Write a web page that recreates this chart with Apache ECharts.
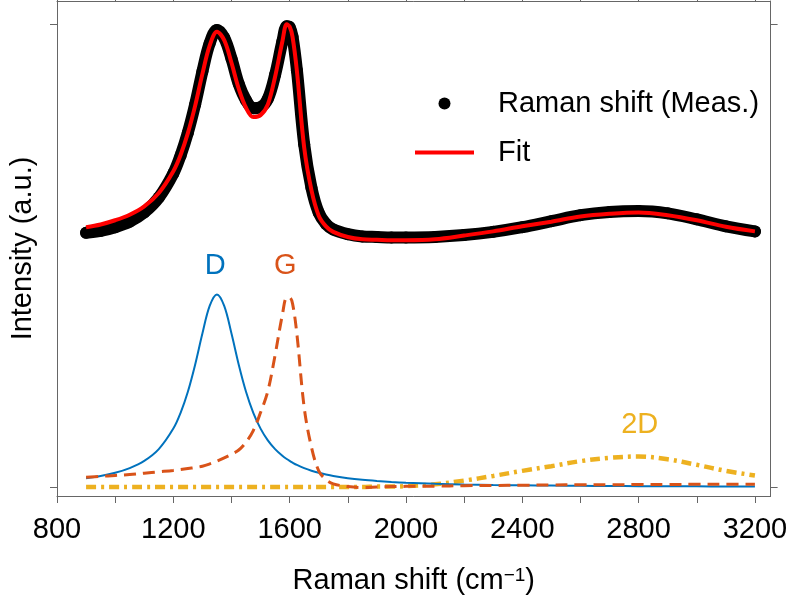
<!DOCTYPE html>
<html><head><meta charset="utf-8">
<script src="https://cdn.jsdelivr.net/npm/echarts@6/dist/echarts.min.js"></script>
<style>html,body{margin:0;padding:0;background:#fff}#c{width:790px;height:600px}</style>
</head><body><div id="c"></div>
<script>
// Raman shift (cm^-1) sample positions
const ramanShift = [900, 950, 1000, 1050, 1100, 1150, 1200,
  1225, 1250, 1275, 1300, 1325, 1350, 1375, 1400, 1425, 1450, 1475, 1500, 1525, 1550, 1575,
  1590, 1600, 1610,
  1625, 1650, 1675, 1700, 1725, 1750,
  1800, 1850, 1900, 1950, 2000,
  2100, 2200, 2300, 2400, 2500, 2600, 2700, 2800, 2900, 3000, 3100, 3200];

const measured = [0.549, 0.553, 0.561, 0.573, 0.593, 0.625, 0.677,
  0.716, 0.765, 0.826, 0.897, 0.958, 0.987, 0.970, 0.925, 0.870, 0.835, 0.818, 0.820, 0.838, 0.890, 0.962,
  0.995, 0.993, 0.972,
  0.900, 0.740, 0.646, 0.592, 0.568, 0.556,
  0.546, 0.541, 0.540, 0.539, 0.539,
  0.540, 0.544, 0.551, 0.561, 0.574, 0.587, 0.594, 0.596, 0.591, 0.578, 0.563, 0.552];

const fit = [0.561, 0.567, 0.576, 0.588, 0.606, 0.635, 0.682,
  0.717, 0.764, 0.823, 0.892, 0.953, 0.983, 0.965, 0.916, 0.860, 0.819, 0.799, 0.803, 0.826, 0.886, 0.962,
  0.999, 0.994, 0.972,
  0.898, 0.733, 0.641, 0.586, 0.563, 0.551,
  0.540, 0.535, 0.534, 0.533, 0.533,
  0.535, 0.543, 0.552, 0.563, 0.573, 0.584, 0.590, 0.593, 0.587, 0.576, 0.562, 0.552];

const bandD = [0.0192, 0.0240, 0.0308, 0.0409, 0.0564, 0.0819, 0.1262,
  0.1604, 0.2059, 0.2643, 0.3315, 0.3911, 0.4160, 0.3911, 0.3315, 0.2643, 0.2059, 0.1604, 0.1262, 0.1008, 0.0819, 0.0675,
  0.0605, 0.0564, 0.0527,
  0.0477, 0.0409, 0.0353, 0.0308, 0.0271, 0.0240,
  0.0192, 0.0157, 0.0131, 0.0110, 0.0094,
  0.0071, 0.0056, 0.0045, 0.0037, 0.0031, 0.0026, 0.0022, 0.0019, 0.0017, 0.0015, 0.0013, 0.0012];

const bandG = [0.021, 0.023, 0.025, 0.027, 0.030, 0.033, 0.036,
  0.038, 0.040, 0.042, 0.045, 0.050, 0.056, 0.063, 0.071, 0.080, 0.097, 0.122, 0.161, 0.207, 0.285, 0.372,
  0.409, 0.409, 0.396,
  0.330, 0.172, 0.086, 0.035, 0.016, 0.007,
  0.001, -0.001, 0.000, 0.001, 0.0015,
  0.002, 0.003, 0.0035, 0.004, 0.0045, 0.005, 0.005, 0.0055, 0.0055, 0.006, 0.006, 0.006];

const band2D = [0, 0, 0, 0, 0, 0, 0,
  0, 0, 0, 0, 0, 0, 0, 0, 0, 0, 0, 0, 0, 0, 0,
  0, 0, 0,
  0, 0, 0, 0, 0, 0,
  0.000, 0.000, 0.001, 0.001, 0.002,
  0.006, 0.014, 0.024, 0.035, 0.045, 0.056, 0.063, 0.066, 0.060, 0.048, 0.035, 0.025];

const xTicks = [800, 1000, 1200, 1400, 1600, 1800, 2000, 2200, 2400, 2600, 2800, 3000, 3200];
const xTickLabels = [800, 1200, 1600, 2000, 2400, 2800, 3200];
const yTicks = [0, 1];

const bandLabels = [
  { text: 'D', x: 1344, y: 0.477, color: '#0072BD' },
  { text: 'G', x: 1585, y: 0.477, color: '#D95319' },
  { text: '2D', x: 2804, y: 0.133, color: '#EDB120' }
];

const FONT = "'Liberation Sans', Arial, Helvetica, sans-serif";
const FS = 29;
const AX = '#666666';
const XMIN = 800, XMAX = 3254, YMIN = -0.0193, YMAX = 1.0494;

function pairs(ys) { return ramanShift.map((x, i) => [x, ys[i]]); }
function labelMark(l) {
  return {
    symbolSize: 0,
    silent: true,
    label: { show: true, position: 'inside', fontSize: FS, color: l.color, fontFamily: FONT, formatter: l.text },
    data: [{ coord: [l.x, l.y], value: l.text }]
  };
}

const chart = echarts.init(document.getElementById('c'), null, { renderer: 'canvas' });
const axisCommon = { lineStyle: { color: AX, width: 1 } };
const SM = 0.35;
const option = {
  animation: false,
  backgroundColor: '#fff',
  textStyle: { fontFamily: FONT },
  grid: { left: 49, right: 16, top: 1, bottom: 101, containLabel: false },
  legend: {
    orient: 'vertical', left: 415, top: 89, padding: 0,
    itemWidth: 59, itemHeight: 12, itemGap: 20,
    textStyle: { fontSize: FS, color: '#000', fontFamily: FONT, padding: [0, 0, 0, 19] },
    data: [
      { name: 'Raman shift (Meas.)', icon: 'circle' },
      { name: 'Fit', icon: 'path://M0,0 L59,0 L59,4 L0,4 Z' }
    ]
  },
  xAxis: [{
    type: 'value', min: XMIN, max: XMAX, interval: 200, position: 'bottom',
    name: 'Raman shift (cm{sup|\u22121})', nameLocation: 'middle', nameGap: 70,
    nameTextStyle: { fontSize: FS, color: '#000', fontFamily: FONT,
      rich: { sup: { fontSize: 19, color: '#000', fontFamily: FONT, verticalAlign: 'top' } } },
    axisLine: { show: true, onZero: false, ...axisCommon },
    axisTick: { show: true, inside: false, length: 7, customValues: xTicks, lineStyle: { color: AX } },
    axisLabel: { show: true, fontSize: FS, color: '#000', margin: 19, customValues: xTickLabels, fontFamily: FONT,
      formatter: v => String(v) },
    splitLine: { show: false }
  }, {
    type: 'value', min: XMIN, max: XMAX, interval: 200, position: 'top',
    axisLine: { show: true, onZero: false, ...axisCommon },
    axisTick: { show: true, inside: false, length: 7, customValues: xTicks, lineStyle: { color: AX } },
    axisLabel: { show: false }, splitLine: { show: false }
  }],
  yAxis: [{
    type: 'value', min: YMIN, max: YMAX, interval: 1, position: 'left',
    name: 'Intensity (a.u.)', nameLocation: 'middle', nameGap: 20,
    nameTextStyle: { fontSize: FS, color: '#000', fontFamily: FONT },
    axisLine: { show: true, onZero: false, ...axisCommon },
    axisTick: { show: true, inside: false, length: 7, customValues: yTicks, lineStyle: { color: AX } },
    axisLabel: { show: false }, splitLine: { show: false }
  }, {
    type: 'value', min: YMIN, max: YMAX, interval: 1, position: 'right',
    axisLine: { show: true, onZero: false, ...axisCommon },
    axisTick: { show: true, inside: false, length: 7, customValues: yTicks, lineStyle: { color: AX } },
    axisLabel: { show: false }, splitLine: { show: false }
  }],
  series: [
    { name: 'D', type: 'line', data: pairs(bandD), symbol: 'none', smooth: SM,
      lineStyle: { color: '#0072BD', width: 2 }, itemStyle: { color: '#0072BD' }, z: 2,
      markPoint: labelMark(bandLabels[0]) },
    { name: 'G', type: 'line', data: pairs(bandG), symbol: 'none', smooth: SM,
      lineStyle: { color: '#D95319', width: 3, type: [12, 7] }, itemStyle: { color: '#D95319' }, z: 3,
      markPoint: labelMark(bandLabels[1]) },
    { name: '2D', type: 'line', data: pairs(band2D), symbol: 'none', smooth: SM,
      lineStyle: { color: '#EDB120', width: 4.5, type: [10, 5, 3, 5] }, itemStyle: { color: '#EDB120' }, z: 1,
      markPoint: labelMark(bandLabels[2]) },
    { name: 'Raman shift (Meas.)', type: 'line', data: pairs(measured), symbol: 'circle', symbolSize: 12,
      showSymbol: true, smooth: SM,
      lineStyle: { color: '#000', width: 12, cap: 'round', join: 'round' }, itemStyle: { color: '#000' }, z: 4 },
    { name: 'Fit', type: 'line', data: pairs(fit), symbol: 'none', smooth: SM,
      lineStyle: { color: '#FF0000', width: 4 }, itemStyle: { color: '#FF0000' }, z: 5 }
  ]
};
chart.setOption(option);
</script>
</body></html>
